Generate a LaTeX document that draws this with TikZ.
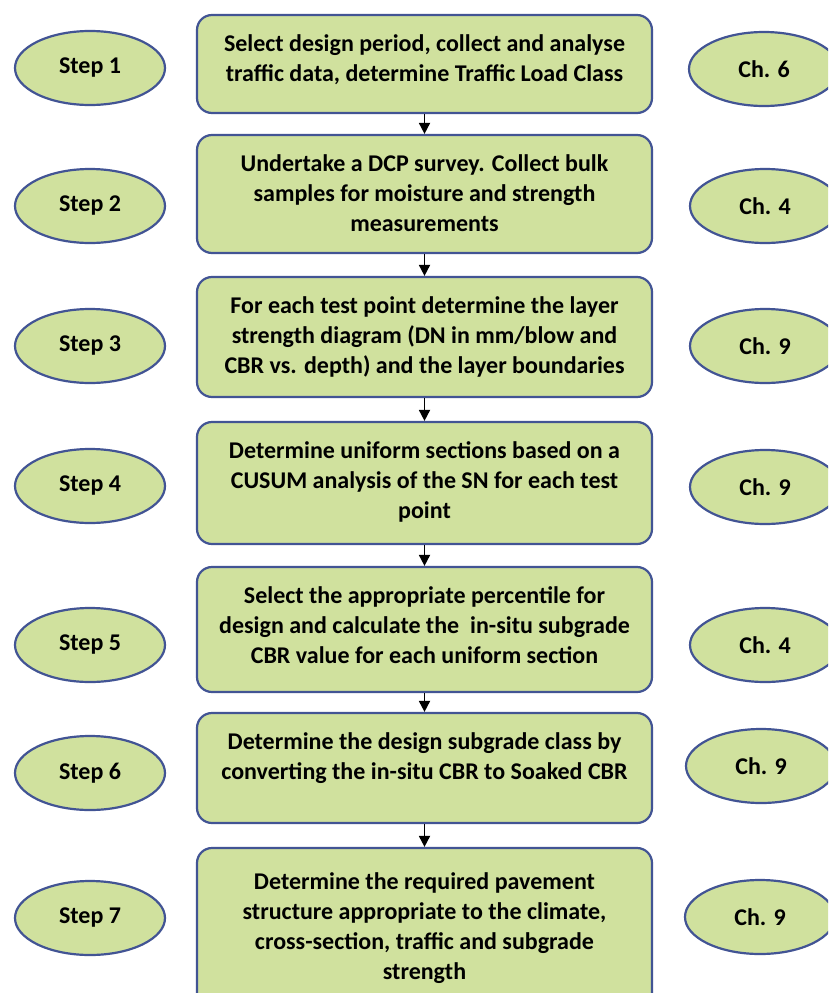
\documentclass[tikz,border=0pt]{standalone}
\usepackage{fontspec}
\setmainfont{Carlito}
\usetikzlibrary{shapes.geometric, arrows.meta, positioning}

\definecolor{boxgreen}{RGB}{208,225,158}
\definecolor{boxedge}{RGB}{66,84,148}

\begin{document}
\begin{tikzpicture}[x=1pt, y=-1pt,
  stepbox/.style={draw=boxedge, line width=2.2pt, fill=boxgreen, rounded corners=15pt,
    minimum width=455pt, inner sep=0pt},
  steptext/.style={anchor=north, inner sep=0pt, align=center,
    font=\fontsize{24}{30}\selectfont\bfseries},
  tag/.style={draw=boxedge, line width=2.2pt, fill=boxgreen, ellipse,
    minimum width=150pt, minimum height=74pt, inner sep=0pt,
    font=\fontsize{24}{28}\selectfont\bfseries},
  flow/.style={line width=1.8pt, -{Triangle[length=11pt,width=11pt]}}]
\path[use as bounding box, clip] (0,0) rectangle (828,993);
\fill[white] (0,0) rectangle (828,993);

\node at (424.5,64) [stepbox, minimum height=98pt] (s1) {};
\node at (424.5,194) [stepbox, minimum height=118pt] (s2) {};
\node at (424.5,337) [stepbox, minimum height=120pt] (s3) {};
\node at (424.5,483) [stepbox, minimum height=122pt] (s4) {};
\node at (424.5,629.5) [stepbox, minimum height=125pt] (s5) {};
\node at (424.5,768) [stepbox, minimum height=110pt] (s6) {};
\node at (424.5,928) [stepbox, minimum height=160pt] (s7) {};

\node [steptext, below=21pt of s1.north] (t1) {Select design period, collect and analyse\\traffic data, determine Traffic Load Class};
\node [steptext, below=21pt of s2.north] (t2) {Undertake a DCP survey. Collect bulk\\samples for moisture and strength\\measurements};
\node [steptext, below=21pt of s3.north] (t3) {For each test point determine the layer\\strength diagram (DN in mm/blow and\\CBR vs. depth) and the layer boundaries};
\node [steptext, below=21pt of s4.north] (t4) {Determine uniform sections based on a\\CUSUM analysis of the SN for each test\\point};
\node [steptext, below=21pt of s5.north] (t5) {Select the appropriate percentile for\\design and calculate the\ \ in-situ subgrade\\CBR value for each uniform section};
\node [steptext, below=21pt of s6.north] (t6) {Determine the design subgrade class by\\converting the in-situ CBR to Soaked CBR};
\node [steptext, below=26pt of s7.north] (t7) {Determine the required pavement\\structure appropriate to the climate,\\cross-section, traffic and subgrade\\strength};

\node at (90,68) [tag] (p1) {Step 1};
\node at (90,206) [tag] (p2) {Step 2};
\node at (90,346) [tag] (p3) {Step 3};
\node at (90,486) [tag] (p4) {Step 4};
\node at (90,645) [tag] (p5) {Step 5};
\node at (90,773) [tag] (p6) {Step 6};
\node at (90,918) [tag] (p7) {Step 7};

\node at (764,69) [tag] (c1) {Ch. 6};
\node at (765,206) [tag] (c2) {Ch. 4};
\node at (765,346) [tag] (c3) {Ch. 9};
\node at (765,487) [tag] (c4) {Ch. 9};
\node at (765,645) [tag] (c5) {Ch. 4};
\node at (761,766) [tag] (c6) {Ch. 9};
\node at (760,917) [tag] (c7) {Ch. 9};

\draw [flow] (s1) -- (s2);
\draw [flow] (s2) -- (s3);
\draw [flow] (s3) -- (s4);
\draw [flow] (s4) -- (s5);
\draw [flow] (s5) -- (s6);
\draw [flow] (s6) -- (s7);
\end{tikzpicture}
\end{document}
